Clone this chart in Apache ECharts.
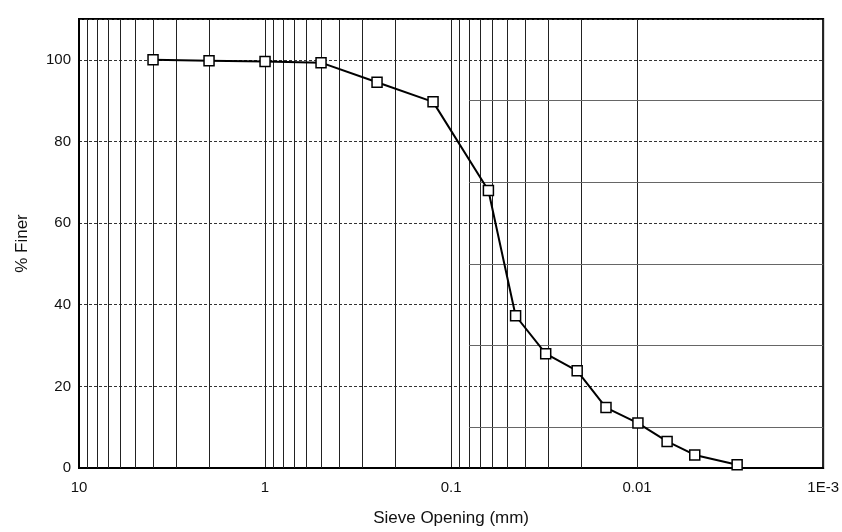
<!DOCTYPE html>
<html>
<head>
<meta charset="utf-8">
<script src="https://cdn.jsdelivr.net/npm/echarts@6/dist/echarts.min.js"></script>
<style>
  html, body { margin: 0; padding: 0; background: #fff; }
  #main { width: 842px; height: 532px; }
</style>
</head>
<body>
<div id="main"></div>
<script>
// grain size data
var sizes = [4, 2, 1, 0.5, 0.25, 0.125, 0.063, 0.045, 0.031, 0.021, 0.0147, 0.0099, 0.0069, 0.0049, 0.0029];
var finer = [100, 99.8, 99.6, 99.3, 94.5, 89.7, 68, 37.3, 28, 23.8, 14.8, 11, 6.5, 3.2, 0.8];

var xTickLabels = ['1E-3', '0.01', '0.1', '1', '10'];   // 10^-3 .. 10^1
var decades = [1, 0.1, 0.01, 0.001];
var multipliers = [2, 3, 4, 5, 6, 7, 8, 9];
var minorLevels = [10, 30, 50, 70, 90];
var minorStart = 0.08;

var font = "'Liberation Sans', Arial, sans-serif";

// vertical log grid lines between decades
var vLines = [];
decades.forEach(function (d) {
    multipliers.forEach(function (m) {
        vLines.push({ xAxis: d * m });
    });
});

// short solid lines at odd tens, right part of the chart only
var hLines = minorLevels.map(function (v) {
    return [{ coord: [minorStart, v] }, { coord: [0.001, v] }];
});

var myChart = echarts.init(document.getElementById('main'));
var option = {
    backgroundColor: '#fff',
    animation: false,
    grid: {
        left: 79,
        right: 16,
        top: 19,
        bottom: 64,
        show: true,
        borderColor: '#000',
        borderWidth: 2,
        backgroundColor: 'transparent'
    },
    xAxis: {
        type: 'log',
        logBase: 10,
        min: 0.001,
        max: 10,
        inverse: true,
        name: 'Sieve Opening (mm)',
        nameLocation: 'middle',
        nameGap: 42,
        nameTextStyle: { fontFamily: font, fontSize: 17, color: '#111' },
        axisLine: { show: true, lineStyle: { color: '#000', width: 2 } },
        axisTick: { show: false },
        axisLabel: {
            fontFamily: font,
            fontSize: 15,
            color: '#111',
            margin: 12,
            formatter: function (v) {
                var k = Math.round(Math.log(v) / Math.LN10) + 3;
                return xTickLabels[k];
            }
        },
        splitLine: { show: true, lineStyle: { color: '#222', width: 1, type: 'solid' } }
    },
    yAxis: {
        type: 'value',
        min: 0,
        max: 110,
        interval: 20,
        name: '% Finer',
        nameLocation: 'middle',
        nameGap: 48,
        nameTextStyle: { fontFamily: font, fontSize: 17, color: '#111' },
        axisLine: { show: true, lineStyle: { color: '#000', width: 2 } },
        axisTick: { show: false },
        axisLabel: {
            fontFamily: font,
            fontSize: 15,
            color: '#111',
            margin: 8,
            showMaxLabel: false
        },
        splitLine: { show: true, lineStyle: { color: '#333', width: 1.2, type: [3, 2] } }
    },
    series: [{
        type: 'line',
        data: sizes.map(function (s, i) { return [s, finer[i]]; }),
        symbol: 'rect',
        symbolSize: 10,
        z: 5,
        lineStyle: { color: '#000', width: 2 },
        itemStyle: { color: '#fff', borderColor: '#000', borderWidth: 1.5 },
        markLine: {
            silent: true,
            symbol: 'none',
            label: { show: false },
            z: 1,
            lineStyle: { color: '#222', width: 1, type: 'solid' },
            emphasis: { disabled: true },
            data: vLines
        }
    }, {
        type: 'line',
        data: [],
        markLine: {
            silent: true,
            symbol: 'none',
            label: { show: false },
            z: 1,
            lineStyle: { color: '#666', width: 1, type: 'solid' },
            emphasis: { disabled: true },
            data: hLines
        }
    }]
};
myChart.setOption(option);

window.onresize = function () {
    myChart.resize();
};
</script>
</body>
</html>
